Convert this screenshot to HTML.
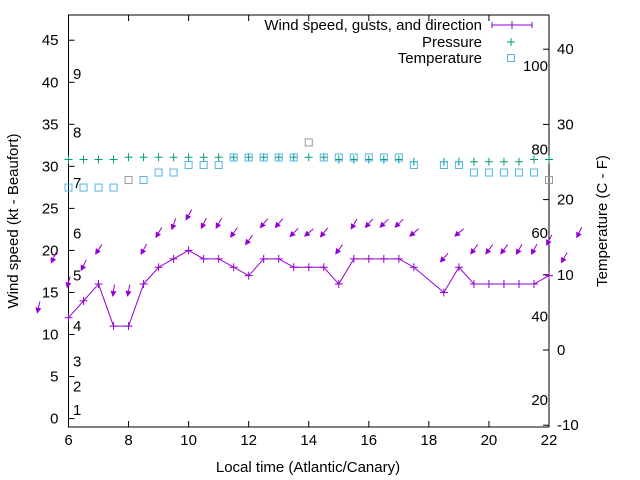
<!DOCTYPE html>
<html><head><meta charset="utf-8"><style>
html,body{margin:0;padding:0;background:#fff;}
svg{display:block;font-family:"Liberation Sans",sans-serif;}
</style></head><body>
<svg id="chart" width="640" height="480" viewBox="0 0 640 480" xmlns="http://www.w3.org/2000/svg">
<g id="axes"></g>
<g id="series"></g>
<g id="legend"></g>
</svg>
<script>
const times = [6,6.5,7,7.5,8,8.5,9,9.5,10,10.5,11,11.5,12,12.5,13,13.5,14,14.5,15,15.5,16,16.5,17,17.5,18.5,19,19.5,20,20.5,21,21.5,22];
const windSpeed = [12,14,16,11,11,16,18,19,20,19,19,18,17,19,19,18,18,18,16,19,19,19,19,18,15,18,16,16,16,16,16,17];
const gustTimes = [5,5.5,6,6.5,7,7.5,8,8.5,9,9.5,10,10.5,11,11.5,12,12.5,13,13.5,14,14.5,15,15.5,16,16.5,17,17.5,18.5,19,19.5,20,20.5,21,21.5,22,22.5,23];
const gustSpeed = [13.2,19.1,16.2,18.2,20.1,15.2,15.2,20.1,22.1,23.1,24.2,23.2,23.2,22.1,21.2,23.2,23.2,22.1,22.1,22.1,20.1,23.1,23.2,23.2,23.2,22.1,19.1,22.1,20.1,20.1,20.1,20.1,20.1,21.2,19.1,22.1];
const gustDir = [13,25,15,26,34,8,11,29,30,20,29,27,29,36,37,39,40,45,50,39,36,30,41,46,46,50,42,50,37,37,37,29,29,28,30,25];
const pressure = [1017,1017,1017,1017,1018,1018,1018,1018,1018,1018,1018,1018,1018,1018,1018,1018,1018,1018,1017,1017,1017,1017,1017,1016,1016,1016,1016,1016,1016,1016,1017,1017];
const temperature = [21.6,21.6,21.6,21.6,22.6,22.6,23.6,23.6,24.6,24.6,24.6,25.6,25.6,25.6,25.6,25.6,27.6,25.6,25.6,25.6,25.6,25.6,25.6,24.6,24.6,24.6,23.6,23.6,23.6,23.6,23.6,22.6];
const xTicks = [6,8,10,12,14,16,18,20,22];
const yTicks = [0,5,10,15,20,25,30,35,40,45];
const y2Ticks = [-10,0,10,20,30,40];
const beaufortLabels = ["1","2","3","4","5","6","7","8","9"];
const beaufortKt = [1,3.8,6.8,11,17,22,28,34,41];
const fahrLabels = ["20","40","60","80","100"];
const fahrValues = [20,40,60,80,100];

const L=68.5,R=549,T=15,B=427;
const X=t=>L+(t-6)*(R-L)/16;
const Y=v=>B-(v+1)*(B-T)/49;
const Y2=c=>350-c*7.52;
const YP=p=>157.3+(1018-p)*2.2;
const YF=f=>Y2((f-32)*5/9);
const NS="http://www.w3.org/2000/svg";
function mk(parent,tag,attrs,txt){const e=document.createElementNS(NS,tag);for(const k in attrs)e.setAttribute(k,attrs[k]);if(txt!==undefined)e.textContent=txt;parent.appendChild(e);return e;}
const axes=document.getElementById('axes'),ser=document.getElementById('series'),leg=document.getElementById('legend');

let e=mk(axes,'rect',{x:L,y:T,width:R-L,height:B-T,fill:'none',stroke:'#000','stroke-width':1});


xTicks.forEach(t=>{
  let g=mk(axes,'path',{d:`M${X(t)},${B}v-6M${X(t)},${T}v6`,stroke:'#000'});
  
  
  let s=mk(axes,'text',{x:X(t),y:B+18,'font-size':15,'text-anchor':'middle'},String(t));
  
  
});
yTicks.forEach(v=>{
  let g=mk(axes,'path',{d:`M${L},${Y(v)}h6`,stroke:'#000'});
  
  
  let s=mk(axes,'text',{x:L-10,y:Y(v)+5,'font-size':15,'text-anchor':'end'},String(v));
  
  
});
y2Ticks.forEach(v=>{
  let g=mk(axes,'path',{d:`M${R},${Y2(v)}h-6`,stroke:'#000'});
  
  
  let s=mk(axes,'text',{x:R+8,y:Y2(v)+5,'font-size':15,'text-anchor':'start'},String(v));
  
  
});
beaufortLabels.forEach((b,i)=>{
  let s=mk(axes,'text',{x:73,y:Y(beaufortKt[i])+5,'font-size':15},b);
  
  
});
fahrValues.forEach((f,i)=>{
  let s=mk(axes,'text',{x:548,y:YF(f)+5,'font-size':15,'text-anchor':'end'},fahrLabels[i]);
  
  
});
e=mk(axes,'text',{x:308,y:472,'font-size':15,'text-anchor':'middle'},'Local time (Atlantic/Canary)');


e=mk(axes,'text',{x:0,y:0,'font-size':15,'text-anchor':'middle',transform:'translate(18,221) rotate(-90)'},'Wind speed (kt - Beaufort)');


e=mk(axes,'text',{x:0,y:0,'font-size':15,'text-anchor':'middle',transform:'translate(607,221) rotate(-90)'},'Temperature (C - F)');



// pressure
times.forEach((t,i)=>{
  let p=mk(ser,'path',{d:`M${X(t)-4},${YP(pressure[i])}h8M${X(t)},${YP(pressure[i])-4}v8`,stroke:'#009e73','stroke-width':1});
  
  
});
// temperature
const grayT=[8,14,22];
times.forEach((t,i)=>{
  let r=mk(ser,'rect',{x:X(t)-3.5,y:Y2(temperature[i])-3.5,width:7,height:7,fill:'none',stroke:grayT.includes(t)?'#999':'#56b4e9','stroke-width':1});
  
  
});
// wind line
let d=times.map((t,i)=>(i?'L':'M')+X(t)+','+Y(windSpeed[i])).join('');
e=mk(ser,'path',{d:d,fill:'none',stroke:'#9400d3','stroke-width':1});


times.forEach((t,i)=>{
  let p=mk(ser,'path',{d:`M${X(t)-4},${Y(windSpeed[i])}h8M${X(t)},${Y(windSpeed[i])-4}v8`,stroke:'#9400d3'});
  
  
});
// gust arrows
gustTimes.forEach((t,i)=>{
  const cx=X(t),cy=Y(gustSpeed[i]),a=gustDir[i]*Math.PI/180,len=12.5;
  const ux=Math.sin(a),uy=-Math.cos(a);
  const tx=cx+ux*len/2,ty=cy+uy*len/2,hx=cx-ux*len/2,hy=cy-uy*len/2;
  const bx=hx+ux*6,by=hy+uy*6,px=-uy*3,py=ux*3;
  let g=mk(ser,'g',{});
  
  
  mk(g,'line',{x1:tx,y1:ty,x2:bx,y2:by,stroke:'#9400d3','stroke-width':1});
  mk(g,'path',{d:`M${hx},${hy}L${bx+px},${by+py}L${bx-px},${by-py}Z`,fill:'#9400d3'});
});
// legend
e=mk(leg,'text',{x:482,y:30,'font-size':15,'text-anchor':'end'},'Wind speed, gusts, and direction');


e=mk(leg,'path',{d:'M492,25h40M492,22v6M532,22v6M512,21v8',stroke:'#9400d3'});


e=mk(leg,'text',{x:482,y:47,'font-size':15,'text-anchor':'end'},'Pressure');


e=mk(leg,'path',{d:'M507,42h8M511,38v8',stroke:'#009e73'});


e=mk(leg,'text',{x:482,y:63,'font-size':15,'text-anchor':'end'},'Temperature');


e=mk(leg,'rect',{x:507.5,y:54.5,width:7,height:7,fill:'none',stroke:'#56b4e9'});


</script>
</body></html>
